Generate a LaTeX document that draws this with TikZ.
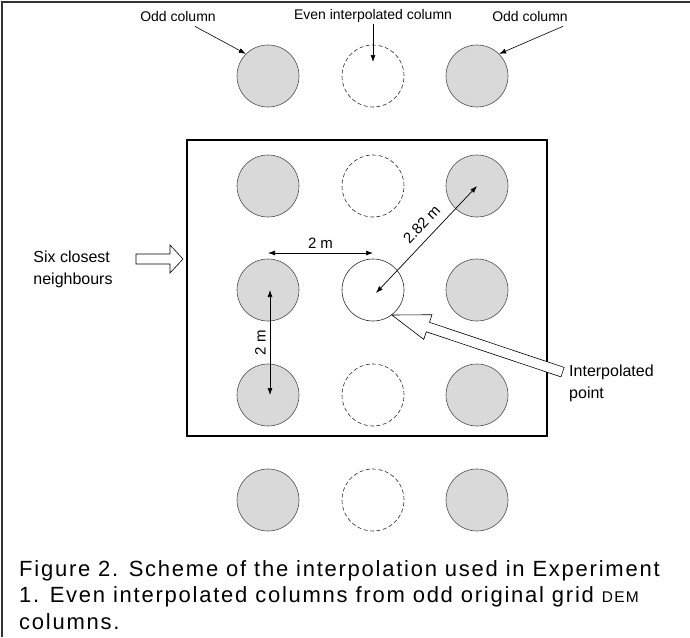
\documentclass[tikz,border=0pt]{standalone}
\usepackage{fontspec}
\setmainfont{Liberation Sans}
\usetikzlibrary{positioning,arrows.meta}

\tikzset{
  oddcol/.style={circle,draw=black!70,fill=gray!30,minimum size=62pt,inner sep=0pt,line width=0.6pt},
  evencol/.style={circle,draw=black!85,dash pattern=on 4pt off 2.5pt,minimum size=62pt,inner sep=0pt,line width=0.6pt},
  ipcol/.style={circle,draw=black!85,minimum size=62pt,inner sep=0pt,line width=0.6pt},
  lbl/.style={font=\fontsize{15}{19}\selectfont,inner sep=1pt},
  toplbl/.style={font=\fontsize{14}{17}\selectfont,inner sep=1pt},
  sidelbl/.style={font=\fontsize{16}{22}\selectfont,inner sep=1pt,align=left},
  ptr/.style={-{Latex[length=7pt,width=5pt]},line width=0.6pt},
  dim/.style={{Latex[length=7pt,width=5pt]}-{Latex[length=7pt,width=5pt]},line width=0.7pt},
  hollow/.style={draw,fill=white,line width=0.6pt,line join=miter},
}

\begin{document}
\begin{tikzpicture}[x=1pt,y=1pt]
      \useasboundingbox (0,0) rectangle (690,-637);
      % frame
      \draw[line width=1.4pt,black!80] (2,-637) -- (2,-2) -- (690,-2);

      % columns outside the block
      \node[oddcol]  (t1) at (268,-76) {};
      \node[evencol] (t2) at (373,-76) {};
      \node[oddcol]  (t3) at (477,-76) {};
      \node[oddcol]  (d1) at (268,-500) {};
      \node[evencol] (d2) at (373,-500) {};
      \node[oddcol]  (d3) at (477,-500) {};

      % block
      \draw[line width=2.4pt] (187,-140) rectangle (547,-436);
      \node[oddcol]  (a1) at (268,-186) {};
      \node[evencol] (a2) at (373,-186) {};
      \node[oddcol]  (a3) at (477,-186) {};
      \node[oddcol]  (b1) at (268,-290) {};
      \node[ipcol]   (b2) at (373,-290) {};
      \node[oddcol]  (b3) at (477,-290) {};
      \node[oddcol]  (c1) at (268,-395) {};
      \node[evencol] (c2) at (373,-395) {};
      \node[oddcol]  (c3) at (477,-395) {};

      % labels on top
      \node[toplbl] (oddl) at (178,-16) {Odd column};
      \node[toplbl] (even) at (373,-16) {Even interpolated column};
      \node[toplbl] (oddr) at (530,-16) {Odd column};
      \draw[ptr] (oddl.south east) ++(-22,-4) -- (t1.135);
      \draw[ptr] (even.south) -- ([yshift=14pt]t2.center);
      \draw[ptr] (oddr.south east) ++(-6,-4) -- (t3.45);

      % distances
      \coordinate (h1) at (268,-253);
      \coordinate (h2) at (373,-253);
      \draw[dim] (h1) -- node[above=3pt,lbl] {2 m} (h2);
      \draw[dim] ([xshift=2pt]b1.center) -- node[left=3pt,lbl,rotate=90,anchor=south] {2 m} ([xshift=2pt]c1.center);
      \draw[dim] ([xshift=3pt,yshift=-3pt]b2.center) -- node[above=7pt,sloped,lbl,pos=0.55] {2.82 m} (a3.center);

      % six closest neighbours
      \node[sidelbl] (six) at (73,-269) {Six closest\\neighbours};
      \coordinate (sixtip) at (183,-259);
      \begin{scope}[shift={(sixtip)}]
        \draw[hollow] (0,0) -- (-13,14) -- (-13,5) -- (-47,5) -- (-47,-5) -- (-13,-5) -- (-13,-14) -- cycle;
      \end{scope}

      % interpolated point
      \node[sidelbl,anchor=north west] (ipt) at (568,-364) {Interpolated\\point};
      \begin{scope}[shift={(b2.-53)},rotate=161.5]
        \draw[hollow] (0,0) -- (-38,13) -- (-38,5) -- (-180,5) -- (-180,-5) -- (-38,-5) -- (-38,-13) -- cycle;
      \end{scope}

      % caption
      \node[anchor=north west,align=left,inner sep=0pt,font=\fontsize{22}{26.5}\selectfont\addfontfeature{LetterSpace=8}] (cap) at (19,-560)
        {Figure 2. Scheme of the interpolation used in Experiment\\
         1. Even interpolated columns from odd original grid {\fontsize{15.5}{15.5}\selectfont DEM}\\
         columns.};
    \end{tikzpicture}
\end{document}
